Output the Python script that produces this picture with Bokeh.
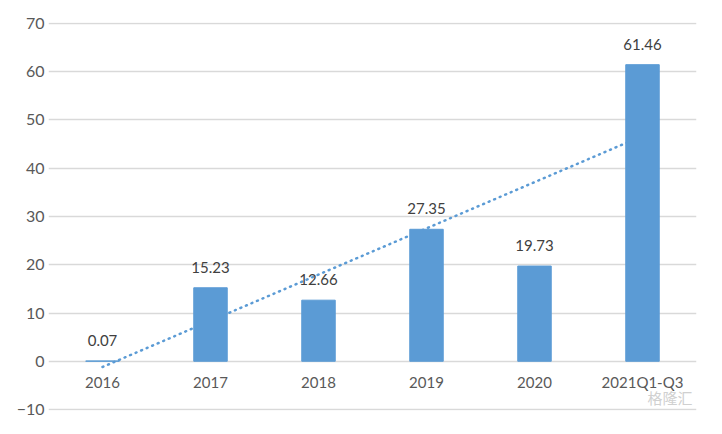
from bokeh.plotting import figure
from bokeh.models import Range1d, SingleIntervalTicker, ColumnDataSource
from bokeh.core.properties import value
from bokeh.embed import file_html
from bokeh.resources import INLINE
import numpy as np

categories = ["2016", "2017", "2018", "2019", "2020", "2021Q1-Q3"]
values = [0.07, 15.23, 12.66, 27.35, 19.73, 61.46]
label_texts = ["0.07", "15.23", "12.66", "27.35", "19.73", "61.46"]

xs = list(range(1, len(categories) + 1))

# linear trendline (least squares over category index)
slope, intercept = np.polyfit(xs, values, 1)
trend_x = [xs[0], xs[-1]]
trend_y = [intercept + slope * xs[0], intercept + slope * xs[-1]]

FONT = "Lato"
BLUE = "#5b9bd5"

p = figure(frame_width=648, frame_height=388, output_backend="svg", toolbar_location=None,
           x_range=Range1d(0.5, 6.5), y_range=Range1d(-10.2, 70.2),
           min_border_left=48, min_border_right=10, min_border_top=22, min_border_bottom=8)
p.outline_line_color = None
p.background_fill_color = "white"
p.border_fill_color = "white"

p.xaxis.visible = False
p.xgrid.grid_line_color = None
p.ygrid.grid_line_color = "#d9d9d9"
p.ygrid.grid_line_width = 1.5

p.yaxis.ticker = SingleIntervalTicker(interval=10)
p.yaxis.axis_line_color = None
p.yaxis.major_tick_line_color = None
p.yaxis.minor_tick_line_color = None
p.yaxis.major_tick_in = 0
p.yaxis.major_tick_out = 0
p.yaxis.minor_tick_in = 0
p.yaxis.minor_tick_out = 0
p.yaxis.major_label_text_font = FONT
p.yaxis.major_label_text_font_size = "16px"
p.yaxis.major_label_text_color = "#595959"
p.yaxis.major_label_standoff = 4

src = ColumnDataSource(dict(x=xs, v=values, cat=categories, lab=label_texts,
                            zero=[0] * len(xs)))

p.line(trend_x, trend_y, line_color=BLUE, line_width=2.5, line_dash="1 5", line_cap="round")
p.vbar(x="x", top="v", bottom=0, width=0.31, source=src, fill_color=BLUE,
       line_color=BLUE, line_width=1)

p.text(x="x", y="v", text="lab", source=src, text_align="center", text_baseline="bottom",
       y_offset=-15, text_font=value(FONT), text_font_size="15px", text_color="#404040")
p.text(x="x", y="zero", text="cat", source=src, text_align="center", text_baseline="middle",
       y_offset=21, text_font=value(FONT), text_font_size="15px", text_color="#595959")

p.text(x=[6.5], y=[-10], text=["格隆汇"], text_align="right", text_baseline="bottom",
       x_offset=-4, y_offset=-2, text_font=value("Noto Sans CJK SC"), text_font_size="15px",
       text_color="#d0d0d0")

open("out.html", "w").write(file_html(p, INLINE))
